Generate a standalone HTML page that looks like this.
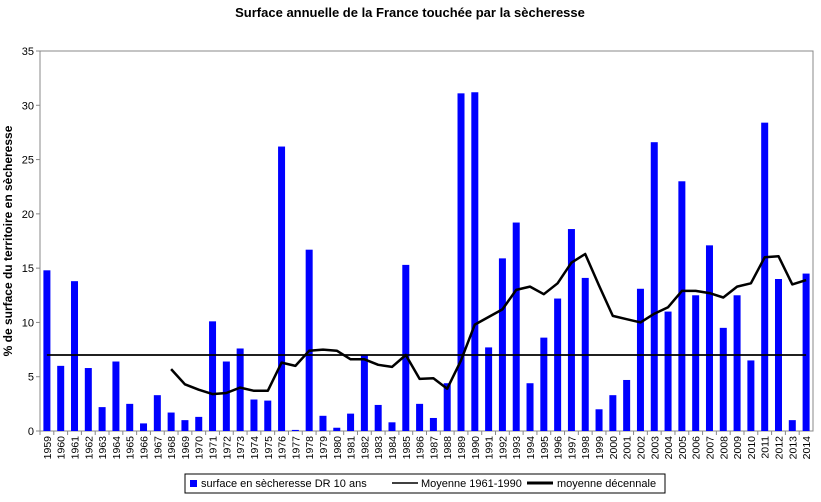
<!DOCTYPE html>
<html><head><meta charset="utf-8"><style>
body{margin:0;background:#fff;font-family:"Liberation Sans",Arial,sans-serif;}
svg text{font-family:"Liberation Sans",Arial,sans-serif;}
</style></head><body>
<svg id="chart" width="821" height="497" xmlns="http://www.w3.org/2000/svg">
<text x="410" y="17" text-anchor="middle" font-size="13" font-weight="bold">Surface annuelle de la France touchée par la sècheresse</text>
<text transform="translate(12,241) rotate(-90)" text-anchor="middle" font-size="12" font-weight="bold">% de surface du territoire en sècheresse</text>
<rect x="40" y="51" width="773" height="380" fill="none" stroke="#888" stroke-width="1"/>
<g id="grid"></g><g id="bars"></g><g id="lines"></g><g id="xlabels"></g>
<g>
<rect x="185" y="474" width="480" height="19" fill="#fff" stroke="#000" stroke-width="1"/>
<rect x="190" y="480" width="7" height="7" fill="#0000ff"/>
<text x="201" y="487" font-size="11">surface en sècheresse DR 10 ans</text>
<line x1="392" y1="483" x2="418" y2="483" stroke="#000" stroke-width="1.5"/>
<text x="421" y="487" font-size="11">Moyenne 1961-1990</text>
<line x1="527" y1="483" x2="553" y2="483" stroke="#000" stroke-width="3"/>
<text x="557" y="487" font-size="11">moyenne décennale</text>
</g>
</svg>
<script>
const years=[];for(let y=1959;y<=2014;y++)years.push(y);
const surface=[14.8,6.0,13.8,5.8,2.2,6.4,2.5,0.7,3.3,1.7,1.0,1.3,10.1,6.4,7.6,2.9,2.8,26.2,0.1,16.7,1.4,0.3,1.6,7.0,2.4,0.8,15.3,2.5,1.2,4.4,31.1,31.2,7.7,15.9,19.2,4.4,8.6,12.2,18.6,14.1,2.0,3.3,4.7,13.1,26.6,11.0,23.0,12.5,17.1,9.5,12.5,6.5,28.4,14.0,1.0,14.5];
const decadal=[null,null,null,null,null,null,null,null,null,5.7,4.3,3.8,3.4,3.5,4.0,3.7,3.7,6.3,6.0,7.4,7.5,7.4,6.6,6.6,6.1,5.9,7.0,4.8,4.85,3.9,6.5,9.8,10.5,11.2,13.0,13.3,12.6,13.6,15.5,16.3,13.4,10.6,10.3,10.0,10.8,11.4,12.9,12.9,12.7,12.3,13.3,13.6,16.0,16.1,13.5,13.9];
const meanValue=7.0;
const yTicks=[0,5,10,15,20,25,30,35];
const L=40,R=813,T=51,B=431,yMax=35;
const slot=(R-L)/years.length;
const xC=i=>L+slot*(i+0.5);
const yS=v=>B-(v/yMax)*(B-T);
const NS='http://www.w3.org/2000/svg';
function mk(tag,attrs,parent){const e=document.createElementNS(NS,tag);for(const k in attrs)e.setAttribute(k,attrs[k]);document.getElementById(parent).appendChild(e);return e;}
yTicks.forEach(t=>{
 const tx=mk('text',{x:L-6,y:yS(t)+4,'text-anchor':'end','font-size':11},'grid');tx.textContent=t;
 
 
 mk('line',{x1:L-4,x2:L,y1:yS(t),y2:yS(t),stroke:'#888'},'grid');
});
years.forEach((yr,i)=>{
 const b=mk('rect',{x:xC(i)-3.5,y:yS(surface[i]),width:7,height:B-yS(surface[i]),fill:'#0000ff'},'bars');
 
 
 mk('line',{x1:L+slot*i,x2:L+slot*i,y1:B,y2:B+4,stroke:'#888'},'xlabels');
 const t=mk('text',{transform:`translate(${xC(i)+4},${B+5}) rotate(-90)`,'text-anchor':'end','font-size':10.5},'xlabels');
 t.textContent=yr;
 
 
});
const m=mk('line',{x1:xC(0),x2:xC(years.length-1),y1:yS(meanValue),y2:yS(meanValue),stroke:'#000','stroke-width':1.8},'lines');


let pts=[];decadal.forEach((v,i)=>{if(v!==null)pts.push(xC(i).toFixed(1)+','+yS(v).toFixed(1));});
const p=mk('polyline',{points:pts.join(' '),fill:'none',stroke:'#000','stroke-width':2.5,'stroke-linejoin':'round'},'lines');


</script>
</body></html>
